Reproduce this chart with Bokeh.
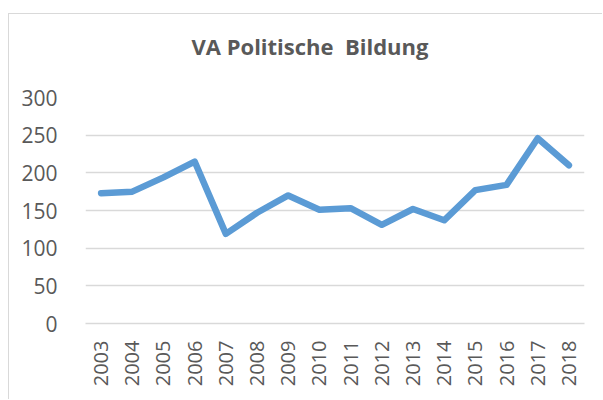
import math
from bokeh.plotting import figure
from bokeh.models import FactorRange, Range1d, FixedTicker, Title
from bokeh.embed import file_html
from bokeh.resources import INLINE

years = ["2003", "2004", "2005", "2006", "2007", "2008", "2009", "2010",
         "2011", "2012", "2013", "2014", "2015", "2016", "2017", "2018"]
values = [173, 175, 194, 215, 119, 147, 170, 151, 153, 131, 152, 137, 177, 184, 246, 210]
y_ticks = [0, 50, 100, 150, 200, 250, 300]
title_text = "VA Politische \u00a0Bildung"

p = figure(width=594, height=386, x_range=FactorRange(*years), y_range=Range1d(0, 300),
           output_backend="svg", toolbar_location=None,
           min_border_left=76, min_border_right=19, min_border_top=83, min_border_bottom=77)
p.margin = (13, 0, 0, 8)
p.styles = {"border-left": "1px solid #D9D9D9", "border-top": "1px solid #D9D9D9"}

spacer = Title(text="\u00a0", text_font="Open Sans", text_font_size="10px",
               text_color="white", standoff=20)
p.add_layout(spacer, "above")
t = Title(text=title_text, align="left", offset=106, text_font="Open Sans",
          text_font_size="22px", text_font_style="bold", text_color="#595959",
          vertical_align="bottom", standoff=2)
p.add_layout(t, "above")

p.outline_line_color = None
p.background_fill_color = "white"
p.border_fill_color = "white"

p.xgrid.grid_line_color = None
p.ygrid.grid_line_color = "#D9D9D9"
p.ygrid.grid_line_width = 1.3

p.yaxis.ticker = FixedTicker(ticks=y_ticks)
p.yaxis.axis_line_color = None
p.yaxis.major_tick_line_color = None
p.yaxis.minor_tick_line_color = None
p.yaxis.major_label_standoff = 22
p.yaxis.major_label_text_font = "Open Sans"
p.yaxis.major_label_text_font_size = "21px"
p.yaxis.major_label_text_color = "#595959"

p.xaxis.axis_line_color = "#D9D9D9"
p.xaxis.axis_line_width = 1.3
p.xaxis.major_tick_line_color = None
p.xaxis.minor_tick_line_color = None
p.xaxis.major_label_orientation = math.pi / 2
p.xaxis.major_label_standoff = 11
p.xaxis.major_label_text_font = "Open Sans"
p.xaxis.major_label_text_font_size = "20px"
p.xaxis.major_label_text_color = "#595959"

p.line(x=years, y=values, line_color="#5B9BD5", line_width=6.5,
       line_cap="round", line_join="round")

open("out.html", "w").write(file_html(p, INLINE))
